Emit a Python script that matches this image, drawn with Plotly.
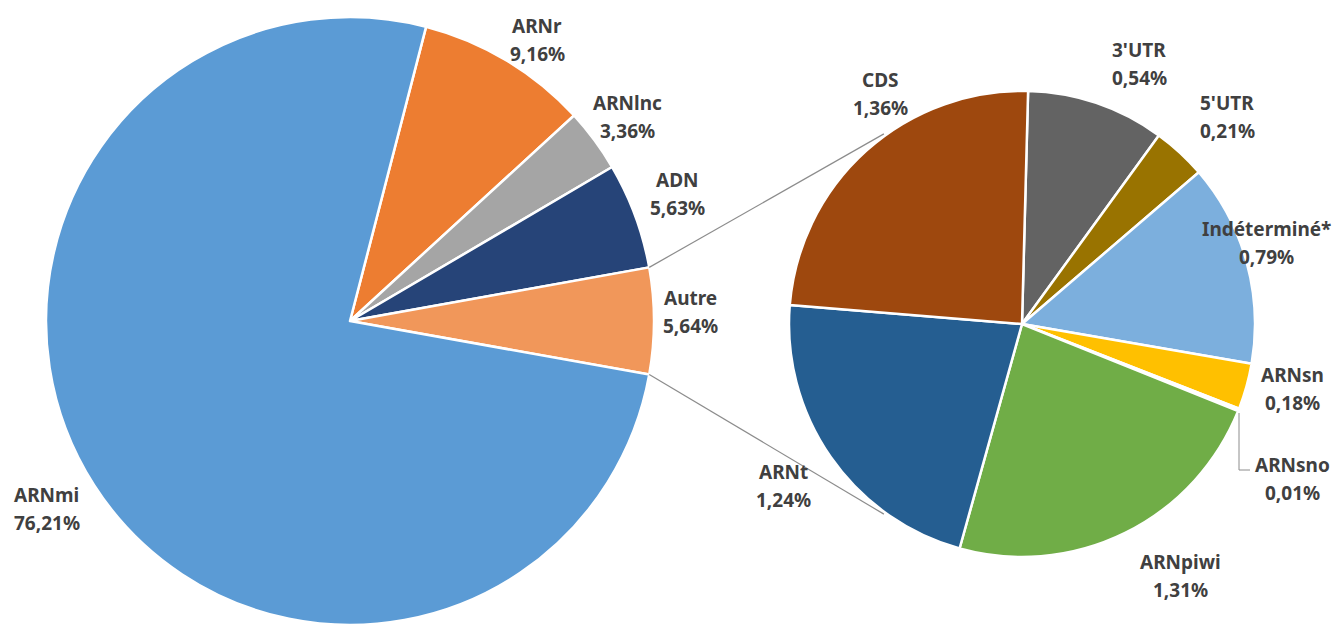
import math
import plotly.graph_objects as go

# ---- data ----
main_labels = ["ARNr", "ARNlnc", "ADN", "Autre", "ARNmi"]
main_values = [9.16, 3.36, 5.63, 5.64, 76.21]
sub_labels = ["3'UTR", "5'UTR", "Indéterminé*", "ARNsn", "ARNsno", "ARNpiwi", "ARNt", "CDS"]
sub_values = [0.54, 0.21, 0.79, 0.18, 0.01, 1.31, 1.24, 1.36]

def fmt(v):
    return f"{v:.2f}".replace(".", ",") + "%"

# ---- styles / layout ----
W, H = 1333, 625
main_colors = ["#ED7D31", "#A5A5A5", "#264478", "#F1975A", "#5B9BD5"]
sub_colors = ["#636363", "#997300", "#7CAFDD", "#FFC000", "#4472C4", "#70AD47", "#255E91", "#9E480E"]
TXT = "#404040"
FONT = "Noto Sans"
FSIZE = 19

# pie geometry in pixels (center x, center y from top, radius)
MCX, MCY, MR = 350, 321, 304
SCX, SCY, SR = 1022, 324, 233
MAIN_ROT = 14.5
SUB_ROT = 1.5

def dom(cx, cy, r):
    return dict(x=[(cx - r) / W, (cx + r) / W], y=[(H - cy - r) / H, (H - cy + r) / H])

fig = go.Figure()
fig.add_trace(go.Pie(
    labels=main_labels, values=main_values, sort=False, direction="clockwise",
    rotation=MAIN_ROT, domain=dom(MCX, MCY, MR), textinfo="none",
    marker=dict(colors=main_colors, line=dict(color="white", width=2.5)),
    showlegend=False, hoverinfo="label+percent"))
fig.add_trace(go.Pie(
    labels=sub_labels, values=sub_values, sort=False, direction="clockwise",
    rotation=SUB_ROT, domain=dom(SCX, SCY, SR), textinfo="none",
    marker=dict(colors=sub_colors, line=dict(color="white", width=2.5)),
    showlegend=False, hoverinfo="label+value"))

# label positions (pixel centers of the two-line label blocks)
label_pos = {
    "ARNr": (537, 40), "ARNlnc": (627, 117), "ADN": (677, 194), "Autre": (690, 312),
    "ARNmi": (47, 509),
    "CDS": (880, 94), "3'UTR": (1139, 64), "5'UTR": (1227, 117),
    "Indéterminé*": (1266, 243), "ARNsn": (1292, 389), "ARNsno": (1292, 479),
    "ARNpiwi": (1180, 576), "ARNt": (783, 486),
}
LINE_GAP = 14
annotations = []
for labs, vals in ((main_labels, main_values), (sub_labels, sub_values)):
    for lab, val in zip(labs, vals):
        x, y = label_pos[lab]
        for txt, yy in ((lab, y - LINE_GAP), (fmt(val), y + LINE_GAP)):
            annotations.append(dict(
                x=x / W, y=1 - yy / H, xref="paper", yref="paper", text=txt,
                showarrow=False, xanchor="center", yanchor="middle",
                font=dict(family=FONT, size=FSIZE, color=TXT, weight="bold")))

# connector lines from the "Autre" slice to the secondary pie
autre_idx = main_labels.index("Autre")
start = MAIN_ROT + sum(main_values[:autre_idx]) / sum(main_values) * 360
end = start + main_values[autre_idx] / sum(main_values) * 360
SUB_ANG = 36
shapes = []
for a_main, a_sub in ((start, 360 - SUB_ANG), (end, 180 + SUB_ANG)):
    x0 = MCX + MR * math.sin(math.radians(a_main))
    y0 = MCY - MR * math.cos(math.radians(a_main))
    x1 = SCX + (SR + 2) * math.sin(math.radians(a_sub))
    y1 = SCY - (SR + 2) * math.cos(math.radians(a_sub))
    shapes.append(dict(type="line", xref="paper", yref="paper",
                       x0=x0 / W, y0=1 - y0 / H, x1=x1 / W, y1=1 - y1 / H,
                       line=dict(color="#8C8C8C", width=1.2)))
# leader line for ARNsno
sno_path = [(1239, 413), (1239, 470), (1250, 470)]
for (xa, ya), (xb, yb) in zip(sno_path[:-1], sno_path[1:]):
    shapes.append(dict(type="line", xref="paper", yref="paper",
                       x0=xa / W, y0=1 - ya / H, x1=xb / W, y1=1 - yb / H,
                       line=dict(color="#8C8C8C", width=1)))

fig.update_layout(
    width=W, height=H, margin=dict(l=0, r=0, t=0, b=0),
    paper_bgcolor="white", plot_bgcolor="white",
    annotations=annotations, shapes=shapes,
    font=dict(family=FONT, color=TXT))

fig.write_html("out.html", config={"displayModeBar": False},
               post_script="document.body.style.margin='0';document.body.style.overflow='hidden';")
